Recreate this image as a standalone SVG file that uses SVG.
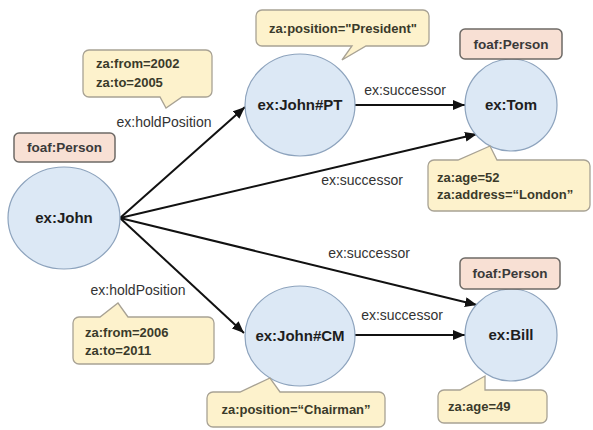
<svg xmlns="http://www.w3.org/2000/svg" width="593" height="430" viewBox="0 0 593 430">
<defs>
<style>
.node{fill:#dce8f5;stroke:#8da3bd;stroke-width:1.2}
.nlabel{font-family:"Liberation Sans",Arial,sans-serif;font-size:15px;font-weight:bold;fill:#1e1e1e;text-anchor:middle}
.type{fill:#f8e0d4;stroke:#6e6a66;stroke-width:1.5}
.tlabel{font-family:"Liberation Sans",Arial,sans-serif;font-size:13.5px;font-weight:bold;fill:#3a3a3a;text-anchor:middle}
.callout{fill:#fdf2cc;stroke:#a8a294;stroke-width:1.3}
.ctext{font-family:"Liberation Sans",Arial,sans-serif;font-size:13px;font-weight:bold;fill:#3a3a2a}
.edge{stroke:#111;stroke-width:2;fill:none;marker-end:url(#arr)}
.elabel{font-family:"Liberation Sans",Arial,sans-serif;font-size:14px;fill:#333;text-anchor:middle}
</style>
<marker id="arr" markerUnits="userSpaceOnUse" markerWidth="12" markerHeight="10" refX="12" refY="5" orient="auto">
<path d="M0,0 L12,5 L0,10 Z" fill="#111"/>
</marker>
</defs>
<rect width="593" height="430" fill="#ffffff"/>

<g id="connectors">
<line class="edge" x1="120" y1="218" x2="245" y2="107"/>
<line class="edge" x1="120" y1="218" x2="477" y2="134"/>
<line class="edge" x1="120" y1="218" x2="477" y2="305"/>
<line class="edge" x1="120" y1="218" x2="244" y2="333"/>
<line class="edge" x1="355" y1="105" x2="465" y2="105"/>
<line class="edge" x1="355" y1="335" x2="465" y2="335"/>
<text class="elabel" x="164" y="127">ex:holdPosition</text>
<text class="elabel" x="138" y="295">ex:holdPosition</text>
<text class="elabel" x="405" y="95">ex:successor</text>
<text class="elabel" x="362" y="185">ex:successor</text>
<text class="elabel" x="369" y="258">ex:successor</text>
<text class="elabel" x="402" y="320">ex:successor</text>
</g>

<g id="john">
<ellipse class="node" cx="64" cy="218" rx="56" ry="51"/>
<text class="nlabel" x="64" y="223">ex:John</text>
</g>
<g id="john-type">
<rect class="type" x="14" y="133" width="101" height="29" rx="5"/>
<text class="tlabel" x="64.5" y="152">foaf:Person</text>
</g>

<g id="johnPT">
<ellipse class="node" cx="300" cy="105" rx="55" ry="51"/>
<text class="nlabel" x="300" y="110">ex:John#PT</text>
</g>

<g id="tom">
<circle class="node" cx="511" cy="105" r="46"/>
<text class="nlabel" x="511" y="110">ex:Tom</text>
</g>
<g id="tom-type">
<rect class="type" x="460" y="29" width="102" height="30" rx="5"/>
<text class="tlabel" x="511" y="49">foaf:Person</text>
</g>

<g id="johnCM">
<ellipse class="node" cx="300" cy="336" rx="55" ry="50"/>
<text class="nlabel" x="300" y="341">ex:John#CM</text>
</g>

<g id="bill">
<circle class="node" cx="511" cy="335" r="46"/>
<text class="nlabel" x="511" y="340">ex:Bill</text>
</g>
<g id="bill-type">
<rect class="type" x="460" y="258" width="100" height="31" rx="5"/>
<text class="tlabel" x="510" y="278">foaf:Person</text>
</g>

<g id="callout-pt-time">
<path class="callout" d="M89,50 H206 A6,6 0 0 1 212,56 V91 A6,6 0 0 1 206,97 H182 L166,108 L160,97 H89 A6,6 0 0 1 83,91 V56 A6,6 0 0 1 89,50 Z"/>
<text class="ctext" x="96" y="68">za:from=2002</text>
<text class="ctext" x="96" y="87">za:to=2005</text>
</g>

<g id="callout-pt-position">
<path class="callout" d="M262,10 H423 A6,6 0 0 1 429,16 V40 A6,6 0 0 1 423,46 H366 L342,60 L352,46 H262 A6,6 0 0 1 256,40 V16 A6,6 0 0 1 262,10 Z"/>
<text class="ctext" x="343" y="33" text-anchor="middle">za:position="President"</text>
</g>

<g id="callout-tom">
<path class="callout" d="M434,160 H458 L490,146 L497,160 H584 A6,6 0 0 1 590,166 V205 A6,6 0 0 1 584,211 H434 A6,6 0 0 1 428,205 V166 A6,6 0 0 1 434,160 Z"/>
<text class="ctext" x="437" y="182">za:age=52</text>
<text class="ctext" x="437" y="199">za:address=“London”</text>
</g>

<g id="callout-cm-time">
<path class="callout" d="M79,317 H100 L118,303 L128,317 H208 A6,6 0 0 1 214,323 V358 A6,6 0 0 1 208,364 H79 A6,6 0 0 1 73,358 V323 A6,6 0 0 1 79,317 Z"/>
<text class="ctext" x="85" y="337">za:from=2006</text>
<text class="ctext" x="85" y="355">za:to=2011</text>
</g>

<g id="callout-cm-position">
<path class="callout" d="M213,392 H240 L270,378 L280,392 H379 A6,6 0 0 1 385,398 V421 A6,6 0 0 1 379,427 H213 A6,6 0 0 1 207,421 V398 A6,6 0 0 1 213,392 Z"/>
<text class="ctext" x="296" y="414" text-anchor="middle">za:position=“Chairman”</text>
</g>

<g id="callout-bill">
<path class="callout" d="M444,390 H460 L485,376 L485,390 H541 A6,6 0 0 1 547,396 V417 A6,6 0 0 1 541,423 H444 A6,6 0 0 1 438,417 V396 A6,6 0 0 1 444,390 Z"/>
<text class="ctext" x="448" y="411">za:age=49</text>
</g>
</svg>
